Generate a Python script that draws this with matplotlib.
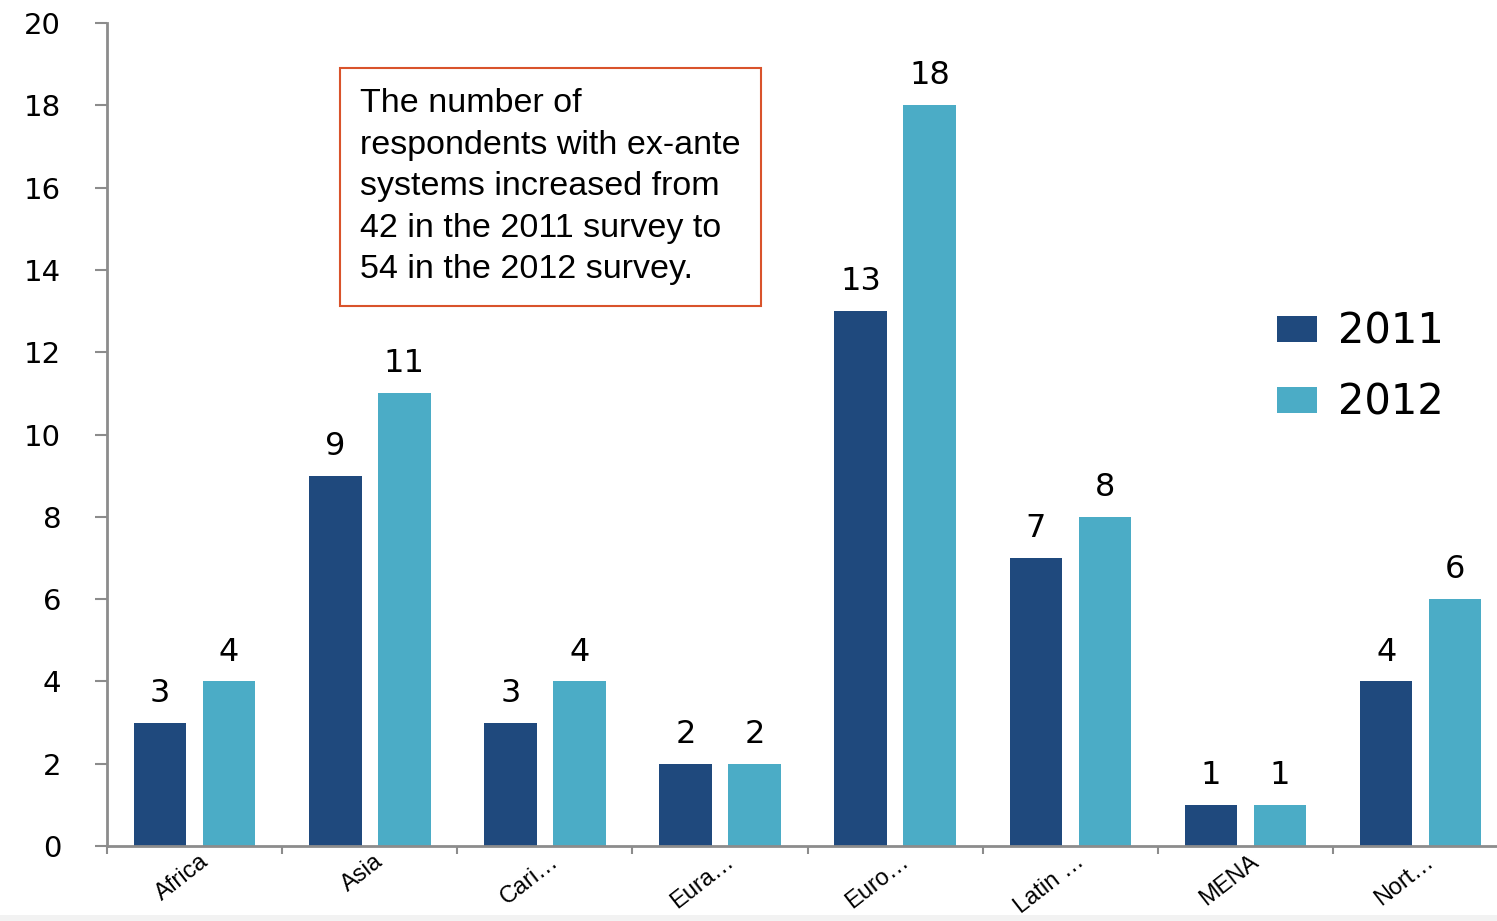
import matplotlib
matplotlib.use('Agg')
import matplotlib.pyplot as plt
import matplotlib.transforms as mtrans
from matplotlib.patches import Rectangle
import numpy as np

# ── Data ────────────────────────────────────────────────────────────────
REGIONS = ['Africa', 'Asia', 'Cari…', 'Eura…', 'Euro…', 'Latin …', 'MENA', 'Nort…']
VALS_2011 = [3, 9, 3, 2, 13, 7, 1, 4]
VALS_2012 = [4, 11, 4, 2, 18, 8, 1, 6]
YEARS = ['2011', '2012']
YTICKS = list(range(0, 21, 2))
NOTE = ('The number of\nrespondents with ex-ante\nsystems increased from\n'
        '42 in the 2011 survey to\n54 in the 2012 survey.')

C_2011 = '#1F497D'
C_2012 = '#4BACC6'
GRAY = '#8C8C8C'


def main():
    fig = plt.figure(figsize=(14.97, 9.21), dpi=100)
    ax = fig.add_axes([0.0715, 0.0814, 0.936, 0.8936])

    x = np.arange(len(REGIONS))
    w = 0.30
    off = 0.197
    b1 = ax.bar(x - off, VALS_2011, w, color=C_2011, label=YEARS[0])
    b2 = ax.bar(x + off, VALS_2012, w, color=C_2012, label=YEARS[1])

    # value labels above bars
    for bars, vals in ((b1, VALS_2011), (b2, VALS_2012)):
        for rect, v in zip(bars, vals):
            ax.annotate(f'{v}', xy=(rect.get_x() + rect.get_width() / 2, v),
                        xytext=(0, 10), textcoords='offset points',
                        ha='center', va='bottom', fontsize=23,
                        family='DejaVu Sans')

    ax.set_xlim(-0.5, len(REGIONS) - 0.5)
    ax.set_ylim(0, 20)
    ax.set_yticks(YTICKS)
    ax.set_yticklabels([str(t) for t in YTICKS], fontsize=21, family='DejaVu Sans')
    ax.tick_params(axis='y', length=9, width=1.5, color=GRAY, pad=24)

    # category boundaries as ticks, labels at centres
    ax.set_xticks(x)
    ax.set_xticklabels(REGIONS, rotation=38, ha='right', va='top',
                       rotation_mode='anchor', fontsize=17,
                       family='Liberation Sans')
    ax.tick_params(axis='x', which='major', length=0, pad=3)
    ax.set_xticks(np.arange(-0.5, len(REGIONS), 1.0), minor=True)
    ax.tick_params(axis='x', which='minor', length=6, width=1.5, color=GRAY)
    shift = mtrans.ScaledTranslation(3 / 72, 0, fig.dpi_scale_trans)
    for lbl in ax.get_xticklabels():
        lbl.set_transform(lbl.get_transform() + shift)

    for s in ('top', 'right'):
        ax.spines[s].set_visible(False)
    for s in ('left', 'bottom'):
        ax.spines[s].set_color(GRAY)
        ax.spines[s].set_linewidth(2)

    # annotation box
    ax.text(0.1806, 0.921, NOTE, transform=ax.transAxes, ha='left', va='top',
            fontsize=24.5, family='Liberation Sans', linespacing=1.44,
            bbox=dict(boxstyle='square,pad=0.6', facecolor='white',
                      edgecolor='#D9532B', linewidth=1.5))

    ax.legend(loc='upper left', bbox_to_anchor=(0.808, 0.696), frameon=False,
              prop={'family': 'DejaVu Sans', 'size': 30},
              handlelength=0.96, handleheight=0.6, handletextpad=0.5,
              labelspacing=0.7)

    # faint strip at the very bottom of the slide (behind everything)
    fig.add_artist(Rectangle((0, 0), 1, 6 / 921, transform=fig.transFigure,
                             facecolor='#F2F2F2', edgecolor='none', zorder=-1))

    fig.savefig('out.png', dpi=100, facecolor='white')
    plt.close(fig)


if __name__ == '__main__':
    main()
